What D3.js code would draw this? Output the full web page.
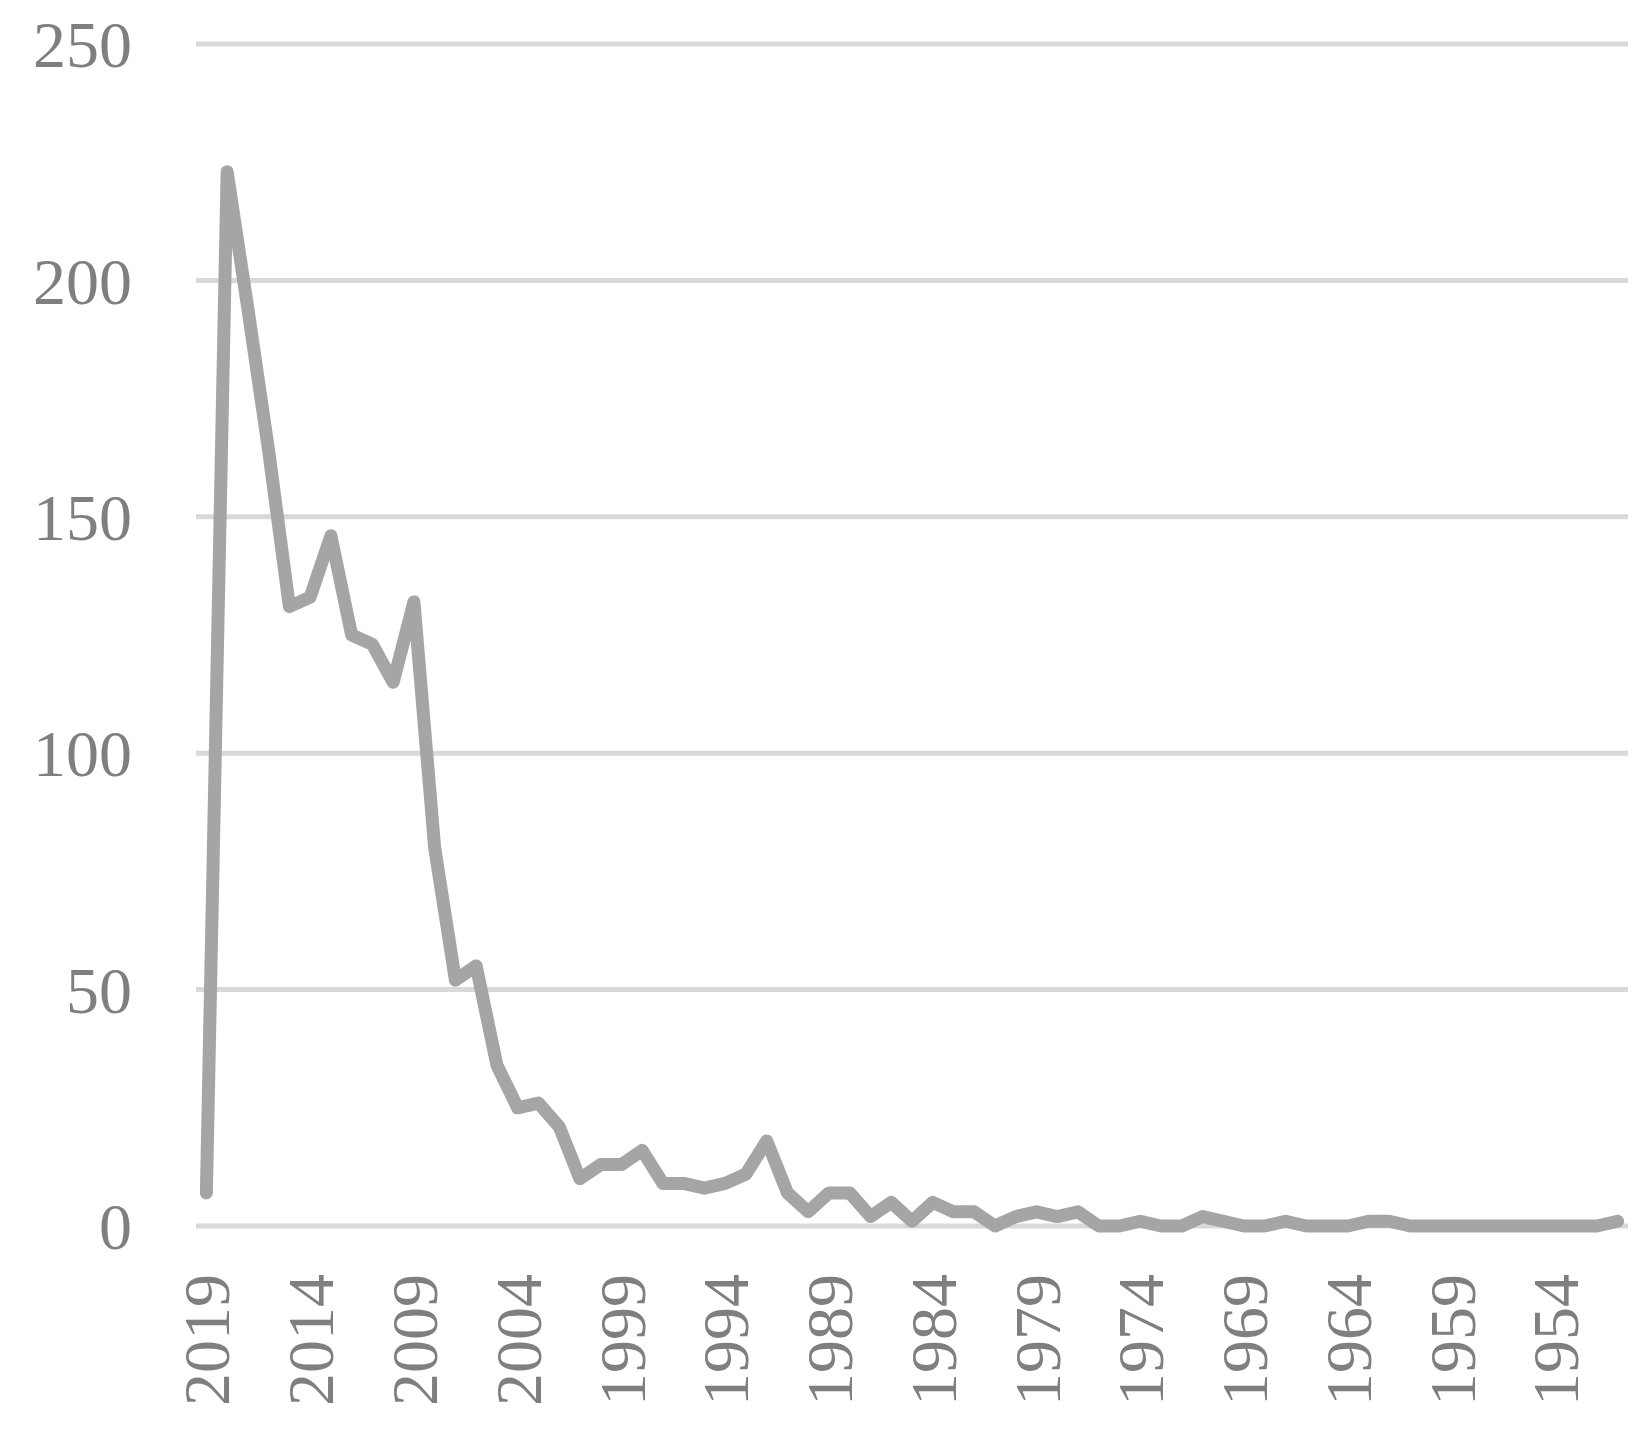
<!DOCTYPE html><html><head><meta charset="utf-8"><script src="https://cdn.jsdelivr.net/npm/d3@7"></script>
<style>body{margin:0;background:#fff}</style></head><body><svg id="c" width="1646" height="1432"></svg>
<script>
const years = d3.range(2019, 1950, -1);
const values = [7,223,194,164,131,133,146,125,123,115,132,80,52,55,34,25,26,21,10,13,13,16,9,9,8,9,11,18,7,3,7,7,2,5,1,5,3,3,0,2,3,2,3,0,0,1,0,0,2,1,0,0,1,0,0,0,1,1,0,0,0,0,0,0,0,0,0,0,1];
const yTicks = [0,50,100,150,200,250];
const xTickYears = years.filter(y => (2019 - y) % 5 === 0);

const svg = d3.select("#c");
const x = d3.scalePoint().domain(years).range([196,1628]).padding(0.5);
const y = d3.scaleLinear().domain([0,250]).range([1226,44]);
const font = "'Liberation Serif','Times New Roman',serif";

svg.append("g").selectAll("line").data(yTicks).join("line")
  .attr("x1",196).attr("x2",1628).attr("y1",d=>y(d)).attr("y2",d=>y(d))
  .attr("stroke","#d9d9d9").attr("stroke-width",5);
svg.append("g").selectAll("text").data(yTicks).join("text")
  .attr("x",132).attr("y",d=>y(d)).attr("dy","0.35em").attr("text-anchor","end")
  .attr("font-family",font).attr("font-size",66).attr("fill","#7f7f7f").text(d=>d);
svg.append("g").selectAll("text").data(xTickYears).join("text")
  .attr("transform",d=>`translate(${x(d)},1274) rotate(-90)`)
  .attr("dy","0.35em").attr("text-anchor","end")
  .attr("font-family",font).attr("font-size",66).attr("fill","#7f7f7f").text(d=>d);
svg.append("path").datum(years.map((d,i)=>[d,values[i]]))
  .attr("d",d3.line().x(d=>x(d[0])).y(d=>y(d[1])))
  .attr("fill","none").attr("stroke","#a5a5a5").attr("stroke-width",13).attr("stroke-linejoin","round").attr("stroke-linecap","round");
</script></body></html>
